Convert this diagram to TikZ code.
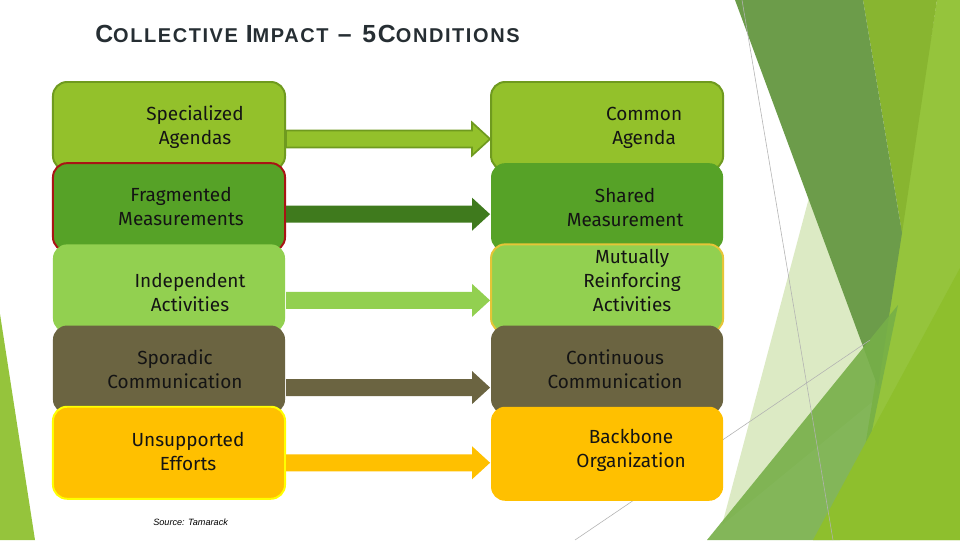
\documentclass[tikz,border=0pt]{standalone}
\usepackage{fontspec}
\setmainfont{Fira Sans}
\newfontfamily\titlefont[LetterSpace=8]{Liberation Sans}
\newfontfamily\sourcefont{Liberation Sans}
\usetikzlibrary{positioning, calc}
\definecolor{agendagreen}{HTML}{93C12B}
\definecolor{agendaline}{HTML}{6F9A1F}
\definecolor{measuregreen}{HTML}{56A227}
\definecolor{measurearrow}{HTML}{3F7A1D}
\definecolor{activitygreen}{HTML}{92D050}
\definecolor{commbrown}{HTML}{6B6441}
\definecolor{effortgold}{HTML}{FFC000}
\definecolor{effortline}{HTML}{FFFF00}
\definecolor{fragline}{HTML}{A81414}
\definecolor{mutualline}{HTML}{E5C537}
\definecolor{titlegrey}{HTML}{262E33}
\definecolor{facetdark}{HTML}{6C9C4A}
\definecolor{facetyellow}{HTML}{88B530}
\definecolor{facetlight}{HTML}{95C43C}
\definecolor{facetmid}{HTML}{76AF48}
\definecolor{facetlime}{HTML}{8EBF2D}
\definecolor{facetpale}{HTML}{DCEAC4}
\tikzset{
    box/.style={rectangle, rounded corners=10pt, minimum width=5.8cm, minimum height=2.2cm, line width=1.4pt},
    boxtext/.style={align=center, text=black!92, font=\fontsize{13.5}{17}\selectfont},
    facet/.style={draw=none},
    hairline/.style={draw=black!30, line width=0.4pt}
}
\newcommand{\fatarrow}[4][]{%
    \coordinate (fa-s) at ($(#2.east)+(0,#4)$);
    \coordinate (fa-e) at (fa-s -| #3.west);
    \filldraw[#1] ($(fa-s)+(0,-8.5)$) -- ($(fa-e)+(-18,-8.5)$) -- ($(fa-e)+(-18,-16.5)$) -- (fa-e)
        -- ($(fa-e)+(-18,16.5)$) -- ($(fa-e)+(-18,8.5)$) -- ($(fa-s)+(0,8.5)$) -- cycle;
}
\newcommand{\capword}[2]{{\fontsize{17.6}{18}\selectfont #1}{\fontsize{14.2}{15}\selectfont #2}}

\begin{document}
\begin{tikzpicture}[x=0.025cm, y=-0.025cm]
    \useasboundingbox (0,0) rectangle (960,540);
    \fill[white] (0,0) rectangle (960,540);

    \fill[facet, facetpale] (835,100) -- (960,330) -- (722,525) -- cycle;
    \fill[facet, facetlight] (937,0) -- (960,0) -- (960,540) -- (850,540) -- cycle;
    \fill[facet, facetyellow] (863,0) -- (937,0) -- (902,233) -- cycle;
    \fill[facet, facetdark] (735,0) -- (863,0) -- (902,233) -- (878,387) -- cycle;
    \fill[facet, facetmid, opacity=0.9] (707,540) -- (898,305) -- (870,440) -- (840,540) -- cycle;
    \fill[facet, facetlime] (813,540) -- (960,268) -- (960,540) -- cycle;
    \fill[facet, facetlight] (0,314) -- (35,540) -- (0,540) -- cycle;
    \draw[hairline] (742,0) -- (833,540);
    \draw[hairline] (575,540) -- (870,340);

    \node[anchor=base west, text=titlegrey, font=\titlefont\bfseries, inner sep=0] (title) at (95,42)
        {\capword{C}{OLLECTIVE}\hspace{2pt} \capword{I}{MPACT}\hspace{3pt} \capword{–}{}\hspace{4pt} \capword{5C}{ONDITIONS}};

    \node[box, fill=agendagreen, draw=agendaline] (sa) at (169,126) {};
    \node[box, fill=measuregreen, draw=fragline, below=-0.22cm of sa] (fm) {};
    \node[box, fill=activitygreen, below=-0.22cm of fm] (ia) {};
    \node[box, fill=commbrown, below=-0.22cm of ia] (sc) {};
    \node[box, fill=effortgold, draw=effortline, minimum height=2.3cm, below=-0.22cm of sc] (ue) {};

    \node[box, fill=agendagreen, draw=agendaline, right=5.1cm of sa] (ca) {};
    \node[box, fill=measuregreen, below=-0.22cm of ca] (sm) {};
    \node[box, fill=activitygreen, draw=mutualline, below=-0.22cm of sm] (mr) {};
    \node[box, fill=commbrown, below=-0.22cm of mr] (cc) {};
    \node[box, fill=effortgold, minimum height=2.35cm, below=-0.22cm of cc] (bo) {};

    \node[boxtext] (sa-t) at ($(sa)+(26,1)$) {Specialized\\Agendas};
    \node[boxtext] (fm-t) at ($(fm)+(12,-1)$) {Fragmented\\Measurements};
    \node[boxtext] (ia-t) at ($(ia)+(21,4)$) {Independent\\Activities};
    \node[boxtext] (sc-t) at ($(sc)+(6,0)$) {Sporadic\\Communication};
    \node[boxtext] (ue-t) at ($(ue)+(19,-1)$) {Unsupported\\Efforts};

    \node[boxtext] (ca-t) at ($(ca)+(37,2)$) {Common\\Agenda};
    \node[boxtext] (sm-t) at ($(sm)+(18,0)$) {Shared\\Measurement};
    \node[boxtext] (mr-t) at ($(mr)+(25,-8)$) {Mutually\\Reinforcing\\Activities};
    \node[boxtext] (cc-t) at ($(cc)+(8,0)$) {Continuous\\Communication};
    \node[boxtext] (bo-t) at ($(bo)+(24,-3)$) {Backbone\\Organization};

    \fatarrow[fill=agendagreen, draw=agendaline, line width=1.2pt]{sa}{ca}{13}
    \fatarrow[fill=measurearrow, draw=none]{fm}{sm}{7}
    \fatarrow[fill=activitygreen, draw=none]{ia}{mr}{12}
    \fatarrow[fill=commbrown, draw=none]{sc}{cc}{18}
    \fatarrow[fill=effortgold, draw=none]{ue}{bo}{10}

    \node[anchor=base west, font=\sourcefont\itshape\fontsize{6.5}{7}\selectfont, inner sep=0] (src) at (153,525) {Source: Tamarack};
\end{tikzpicture}
\end{document}
